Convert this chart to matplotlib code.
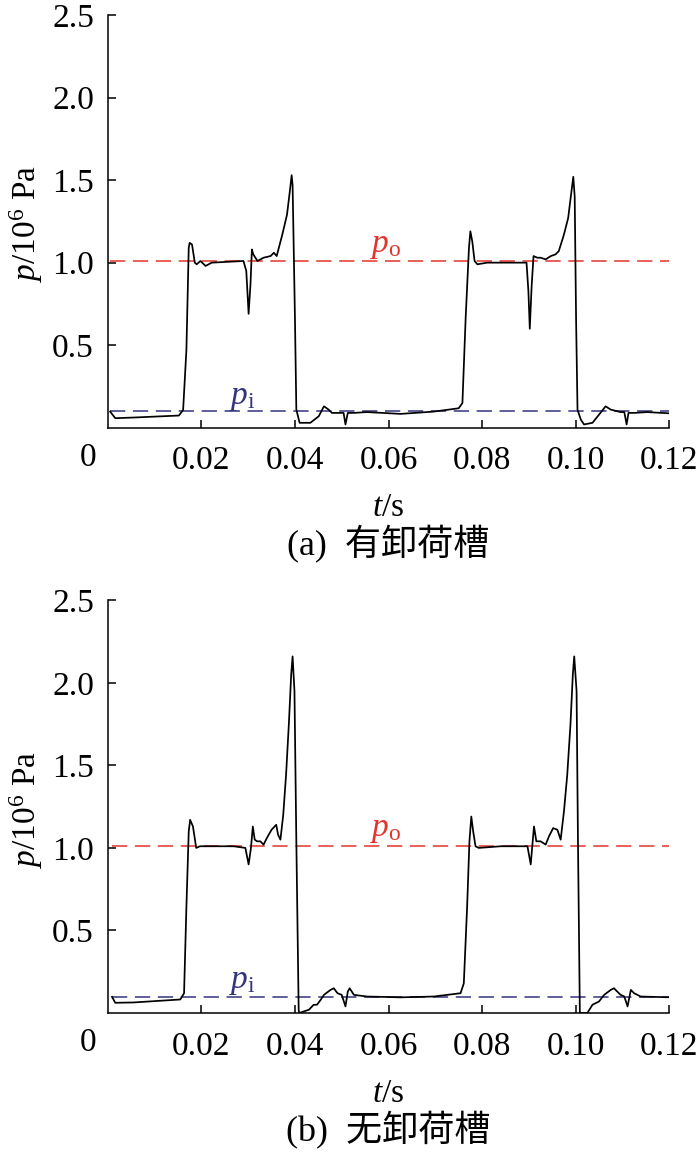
import matplotlib
matplotlib.use("Agg")
import matplotlib.pyplot as plt
import matplotlib.transforms as mtransforms

plt.rcParams['font.family'] = ['Liberation Serif', 'Noto Sans CJK SC']
plt.rcParams['mathtext.fontset'] = 'custom'
plt.rcParams['mathtext.rm'] = 'Liberation Serif'
plt.rcParams['mathtext.it'] = 'Liberation Serif:italic'

# (a) with unloading groove
t_a = [0.0005, 0.0016, 0.0055, 0.0152, 0.0161, 0.0168, 0.0173, 0.0175, 0.0180, 0.0186,
       0.0190, 0.0198, 0.0209, 0.0222, 0.0290, 0.0296, 0.0301, 0.0305, 0.0308, 0.0311,
       0.0320, 0.0333, 0.0348, 0.0355, 0.0361, 0.0373, 0.0383, 0.0389, 0.0393, 0.0395,
       0.0400, 0.0403, 0.0410, 0.0433, 0.0451, 0.0462, 0.0472, 0.0479, 0.0504, 0.0508,
       0.0513, 0.0526, 0.0554, 0.0626, 0.0697, 0.0750, 0.0758, 0.0765, 0.0772, 0.0775,
       0.0779, 0.0784, 0.0790, 0.0811, 0.0840, 0.0895, 0.0899, 0.0902, 0.0906, 0.0910,
       0.0918, 0.0925, 0.0936, 0.0947, 0.0957, 0.0964, 0.0975, 0.0984, 0.0991, 0.0995,
       0.0998, 0.1001, 0.1004, 0.1011, 0.1018, 0.1036, 0.1053, 0.1064, 0.1075, 0.1096,
       0.1104, 0.1109, 0.1113, 0.1125, 0.1153, 0.1203]
p_a = [0.098, 0.058, 0.062, 0.074, 0.108, 0.47, 1.09, 1.12, 1.11, 1.00,
       0.99, 1.01, 0.98, 1.00, 1.01, 0.95, 0.69, 0.87, 1.08, 1.05,
       1.01, 1.03, 1.04, 1.06, 1.04, 1.17, 1.29, 1.43, 1.53, 1.47,
       0.67, 0.11, 0.03, 0.03, 0.07, 0.13, 0.11, 0.09, 0.09, 0.02,
       0.09, 0.09, 0.095, 0.084, 0.098, 0.118, 0.15, 0.67, 1.09, 1.19,
       1.13, 1.01, 0.99, 1.00, 1.00, 1.00, 0.83, 0.60, 0.86, 1.04,
       1.03, 1.03, 1.02, 1.04, 1.05, 1.07, 1.17, 1.27, 1.43, 1.52,
       1.40, 0.65, 0.11, 0.05, 0.02, 0.03, 0.09, 0.13, 0.11, 0.095,
       0.095, 0.02, 0.09, 0.09, 0.095, 0.087]

# (b) without unloading groove
t_b = [0.0009, 0.0016, 0.0055, 0.0155, 0.0163, 0.0168, 0.0173, 0.0176, 0.0182, 0.0189,
       0.0197, 0.0233, 0.0269, 0.0294, 0.0301, 0.0306, 0.0310, 0.0314, 0.0319, 0.0326,
       0.0333, 0.0340, 0.0350, 0.0360, 0.0364, 0.0369, 0.0375, 0.0381, 0.0387, 0.0392,
       0.0395, 0.0399, 0.0403, 0.0408, 0.0409, 0.0430, 0.0440, 0.0447, 0.0455, 0.0462,
       0.0476, 0.0483, 0.0491, 0.0500, 0.0508, 0.0513, 0.0517, 0.0526, 0.0554, 0.0626,
       0.0697, 0.0754, 0.0761, 0.0768, 0.0773, 0.0777, 0.0781, 0.0786, 0.0793, 0.0840,
       0.0897, 0.0904, 0.0907, 0.0911, 0.0916, 0.0925, 0.0936, 0.0943, 0.0952, 0.0961,
       0.0968, 0.0975, 0.0982, 0.0989, 0.0994, 0.0997, 0.1002, 0.1005, 0.1009, 0.1025,
       0.1036, 0.1050, 0.1061, 0.1075, 0.1082, 0.1096, 0.1104, 0.1111, 0.1118, 0.1125,
       0.1139, 0.1203]
p_b = [0.098, 0.062, 0.064, 0.082, 0.12, 0.64, 1.10, 1.17, 1.13, 1.00,
       1.01, 1.01, 1.01, 1.00, 0.90, 1.00, 1.13, 1.05, 1.04, 1.04,
       1.02, 1.06, 1.11, 1.14, 1.08, 1.05, 1.20, 1.44, 1.75, 2.05,
       2.16, 1.95, 1.04, 0.02, 0.0, 0.02, 0.05, 0.05, 0.08, 0.11,
       0.14, 0.15, 0.12, 0.11, 0.04, 0.13, 0.15, 0.11, 0.10, 0.095,
       0.10, 0.12, 0.18, 0.64, 1.04, 1.19, 1.10, 1.01, 1.00, 1.01,
       1.01, 0.90, 1.00, 1.13, 1.04, 1.04, 1.02, 1.07, 1.12, 1.11,
       1.05, 1.22, 1.44, 1.75, 2.05, 2.16, 1.95, 1.04, 0.0, 0.0,
       0.05, 0.07, 0.11, 0.14, 0.15, 0.11, 0.10, 0.04, 0.14, 0.12,
       0.10, 0.095]

p_out = 1.01
p_in = 0.10
x_ticks = [0.02, 0.04, 0.06, 0.08, 0.10, 0.12]
y_ticks = [0.5, 1.0, 1.5, 2.0, 2.5]
captions = ["(a)  有卸荷槽", "(b)  无卸荷槽"]

red = '#e2342b'
blue = '#34347e'

fig = plt.figure(figsize=(7, 11.53), dpi=100)
ax1 = fig.add_axes([0.154, 0.629, 0.802, 0.358])
ax2 = fig.add_axes([0.154, 0.1214, 0.802, 0.358])

panels = [(ax1, t_a, p_a, 1.10, 0.18), (ax2, t_b, p_b, 1.11, 0.19)]

for i, (ax, t, p, po_y, pi_y) in enumerate(panels):
    ax.hlines(p_out, t[0], t[-1], colors=red, linestyles=(0, (10, 5)), linewidth=1.1)
    ax.hlines(p_in, t[0], t[-1], colors=blue, linestyles=(0, (10, 5)), linewidth=1.1)
    ax.plot(t, p, color='black', linewidth=1.25)

    ax.set_xlim(0, 0.12)
    ax.set_ylim(0, 2.5)
    ax.set_xticks(x_ticks)
    ax.set_xticklabels(['%.2f' % v for v in x_ticks])
    ax.set_yticks(y_ticks)
    ax.set_yticklabels(['%.1f' % v for v in y_ticks])
    ax.tick_params(direction='in', length=6, width=1.1, labelsize=24)
    ax.tick_params(axis='x', pad=13)
    ax.tick_params(axis='y', pad=10)
    ax.spines['top'].set_visible(False)
    ax.spines['right'].set_visible(False)
    ax.spines['left'].set_linewidth(1.1)
    ax.spines['bottom'].set_linewidth(1.1)

    # origin label sits left of the axis corner
    trans = mtransforms.blended_transform_factory(ax.transData, ax.transAxes)
    ax.text(-0.0042, -0.035, '0', transform=trans, ha='center', va='top', fontsize=24)

    ax.set_ylabel(r'$p$/10$^6$ Pa', fontsize=24)
    ax.yaxis.set_label_coords(-0.111, 0.494)
    ax.set_xlabel(r'$t$/s', fontsize=24, labelpad=12)

    ax.text(0.0594, po_y, r'$p_{\rm o}$', color=red, fontsize=24, ha='center', va='center')
    ax.text(0.0288, pi_y, r'$p_{\rm i}$', color=blue, fontsize=24, ha='center', va='center')

    ax.text(0.5, -0.283, captions[i], transform=ax.transAxes, ha='center', va='center',
            fontsize=26)

fig.savefig('out.png', dpi=100)
